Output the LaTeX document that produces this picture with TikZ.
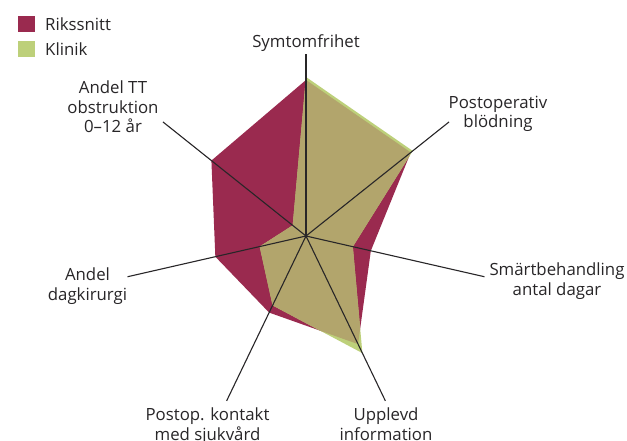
\documentclass[tikz,border=0pt]{standalone}
\usepackage{fontspec}
\setmainfont{Open Sans}
\definecolor{riks}{RGB}{154,42,79}
\definecolor{klin}{RGB}{189,208,122}
\definecolor{mix}{RGB}{178,165,108}
\definecolor{ink}{RGB}{40,38,40}
\begin{document}
\begin{tikzpicture}[x=1pt,y=1pt,
  axis/.style={draw=ink,line width=1.1pt},
  lbl/.style={inner sep=0pt,align=center,text=ink,font=\fontsize{16.8}{19.5}\selectfont},
  key/.style={inner sep=0pt,minimum width=17pt,minimum height=16pt,anchor=north west}]
\useasboundingbox (0,-441) rectangle (627,0);
\fill[white] (0,-441) rectangle (627,0);

% radar centre and spoke ends (radius 183)
\coordinate (C) at (306,-236);
\def\riksPath{(90:156) -- (38.57:134) -- (-12.86:66.5) -- (-64.29:120) -- (-115.71:85) -- (-167.14:93) -- (141.43:121) -- cycle}
\def\klinPath{(90:159) -- (38.57:136.5) -- (-12.86:48) -- (-64.29:130) -- (-115.71:77) -- (-167.14:47.5) -- (141.43:17) -- cycle}

\begin{scope}[shift={(C)}]
  \fill[riks] \riksPath;
  \fill[klin] \klinPath;
  \begin{scope}
    \clip \riksPath;
    \fill[mix] \klinPath;
  \end{scope}
  \coordinate (A1) at (90:182);
  \coordinate (A2) at (38.57:183);
  \coordinate (A3) at (-12.86:183);
  \coordinate (A4) at (-64.29:183);
  \coordinate (A5) at (-115.71:183);
  \coordinate (A6) at (-167.14:183);
  \coordinate (A7) at (141.43:183);
\end{scope}

% spokes
\draw[axis,line width=1.8pt] (C) -- (A1);
\foreach \i in {2,...,7} \draw[axis] (C) -- (A\i);

% spoke labels
\node[lbl,anchor=base] (L1) at (306,-48) {Symtomfrihet};
\node[lbl,anchor=base] (L2) at (498,-128) {Postoperativ\\blödning};
\node[lbl,anchor=base] (L3) at (557,-295) {Smärtbehandling\\antal dagar};
\node[lbl,anchor=base] (L4) at (386,-440) {Upplevd\\information};
\node[lbl,anchor=base] (L5) at (207.5,-440) {Postop. kontakt\\med sjukvård};
\node[lbl,anchor=base] (L6) at (87.5,-300) {Andel\\dagkirurgi};
\node[lbl,anchor=base] (L7) at (113,-133) {Andel TT\\obstruktion\\0–12 år};

% legend
\node[key,fill=riks] (K1) at (18,-16) {};
\node[key,fill=klin] (K2) at (18,-41) {};
\node[lbl,anchor=base west] (T1) at (45,-31) {Rikssnitt};
\node[lbl,anchor=base west] (T2) at (45,-56) {Klinik};
\end{tikzpicture}
\end{document}
